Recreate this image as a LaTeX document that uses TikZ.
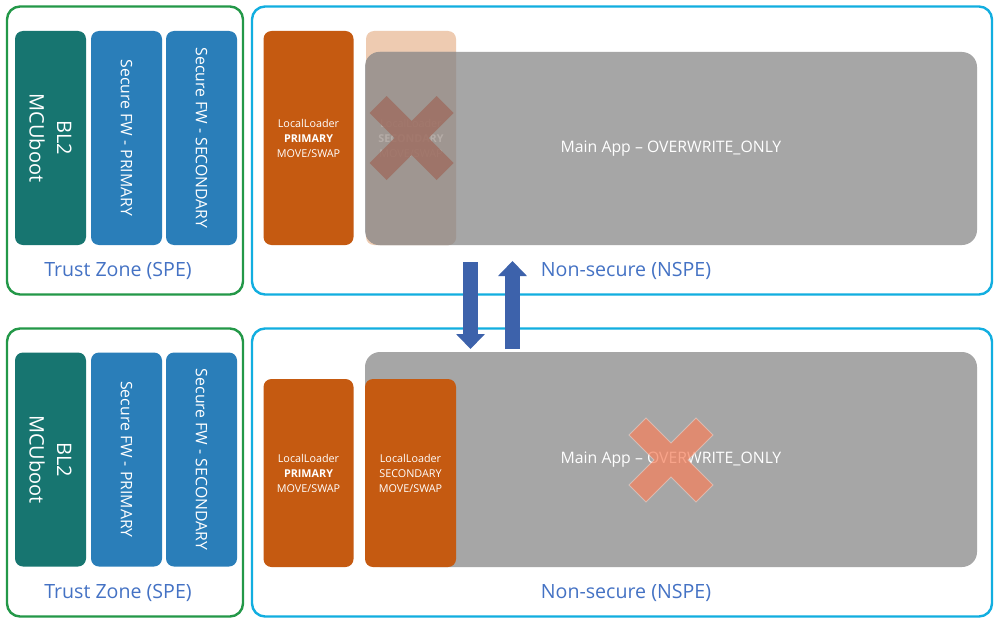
\documentclass[tikz,border=0pt]{standalone}
\usepackage{fontspec}
\setmainfont{Open Sans}
\usetikzlibrary{arrows.meta}
\definecolor{tzgreen}{RGB}{35,152,72}
\definecolor{nscyan}{RGB}{18,174,224}
\definecolor{lblue}{RGB}{68,114,196}
\definecolor{blteal}{RGB}{23,117,112}
\definecolor{fwblue}{RGB}{42,126,185}
\definecolor{llorange}{RGB}{197,90,17}
\definecolor{peach}{RGB}{238,203,177}
\definecolor{appgray}{RGB}{166,166,166}
\definecolor{ovgray}{RGB}{159,150,145}
\definecolor{fainttxt}{RGB}{181,172,167}
\definecolor{xsalmon}{RGB}{246,129,93}
\definecolor{xbrown}{RGB}{158,108,95}
\definecolor{arrblue}{RGB}{61,98,171}
\tikzset{
  zonebox/.style={draw, line width=2.4, rounded corners=13, minimum width=#1, minimum height=288, inner sep=0},
  blk/.style={rounded corners=8, inner sep=0, text=white, align=center},
  vbox/.style={blk, rotate=-90, minimum width=214, minimum height=71},
  llbox/.style={blk, fill=llorange, minimum width=90, font=\fontsize{10.8}{15}\selectfont},
  appbox/.style={rounded corners=15, inner sep=0, fill=appgray, text=white, minimum width=612, font=\fontsize{15.8}{19}\selectfont},
  zonelabel/.style={text=lblue, font=\fontsize{19.6}{24}\selectfont, inner sep=0},
  bigarrow/.style={draw=arrblue, line width=15, -{Triangle[width=28pt,length=15pt]}},
  xcross/.pic={\path[pic actions] (0,-17) -- ++(25,-25) -- ++(17,17) -- ++(-25,25) -- ++(25,25) -- ++(-17,17) -- ++(-25,-25) -- ++(-25,25) -- ++(-17,-17) -- ++(25,-25) -- ++(-25,-25) -- ++(17,-17) -- cycle;}
}
\begin{document}
\begin{tikzpicture}[x=1pt,y=-1pt]
\useasboundingbox[fill=white] (0,0) rectangle (998,626);

% ===== top section =====
\node[zonebox=236, draw=tzgreen] (tzT) at (125,150.5) {};
\node[zonebox=740, draw=nscyan] (nsT) at (622,150.5) {};
\node[vbox, fill=blteal, font=\fontsize{20}{27.5}\selectfont] (blT) at (50.5,138) {BL2\\MCUboot};
\node[vbox, fill=fwblue, font=\fontsize{15.8}{19}\selectfont] (sfpT) at (126.5,138) {Secure FW - PRIMARY};
\node[vbox, fill=fwblue, font=\fontsize{15.8}{19}\selectfont] (sfsT) at (201.5,138) {Secure FW - SECONDARY};
\node[zonelabel] (tzlT) at (118,270.5) {Trust Zone (SPE)};
\node[zonelabel] (nslT) at (626,270.5) {Non-secure (NSPE)};
\node[llbox, minimum height=214] (llpT) at (308.5,138) {LocalLoader\\\textbf{PRIMARY}\\MOVE/SWAP};
\node[blk, fill=peach, minimum width=90, minimum height=214] (llsT) at (411,138) {};
\node[appbox, minimum height=193] (appT) at (671,148.5) {\raisebox{-2pt}{Main App -- OVERWRITE\_ONLY}};
\begin{scope}
  \clip[rounded corners=8] (llsT.south west) rectangle (llsT.north east);
  \fill[ovgray, rounded corners=15] (appT.south west) rectangle (appT.north east);
\end{scope}
\node[text=fainttxt, align=center, inner sep=0, font=\fontsize{10.8}{15}\selectfont] (llsTtxt) at (411,138) {LocalLoader\\\textbf{SECONDARY}\\MOVE/SWAP};
\pic[fill=xbrown, fill opacity=0.8] (xT) at (411.5,138) {xcross};

% ===== bottom section =====
\node[zonebox=236, draw=tzgreen] (tzB) at (125,472.5) {};
\node[zonebox=740, draw=nscyan] (nsB) at (622,472.5) {};
\node[vbox, fill=blteal, font=\fontsize{20}{27.5}\selectfont] (blB) at (50.5,459.5) {BL2\\MCUboot};
\node[vbox, fill=fwblue, font=\fontsize{15.8}{19}\selectfont] (sfpB) at (126.5,459.5) {Secure FW - PRIMARY};
\node[vbox, fill=fwblue, font=\fontsize{15.8}{19}\selectfont] (sfsB) at (201.5,459.5) {Secure FW - SECONDARY};
\node[zonelabel] (tzlB) at (118,592.5) {Trust Zone (SPE)};
\node[zonelabel] (nslB) at (626,592.5) {Non-secure (NSPE)};
\node[appbox, minimum height=215] (appB) at (671,459.5) {\raisebox{-2pt}{Main App -- OVERWRITE\_ONLY}};
\node[llbox, minimum height=188] (llpB) at (308.5,473) {LocalLoader\\\textbf{PRIMARY}\\MOVE/SWAP};
\node[llbox, minimum width=91, minimum height=188] (llsB) at (410.5,473) {LocalLoader\\SECONDARY\\MOVE/SWAP};
\pic[fill=xsalmon, fill opacity=0.72, draw=white, draw opacity=0.35, line width=0.8] (xB) at (671,460) {xcross};

% ===== arrows between sections =====
\coordinate (dnA) at (470.5,262);
\coordinate (dnB) at (470.5,349);
\coordinate (upA) at (512.5,349);
\coordinate (upB) at (512.5,261);
\draw[bigarrow] (dnA) -- (dnB);
\draw[bigarrow] (upA) -- (upB);
\end{tikzpicture}
\end{document}
